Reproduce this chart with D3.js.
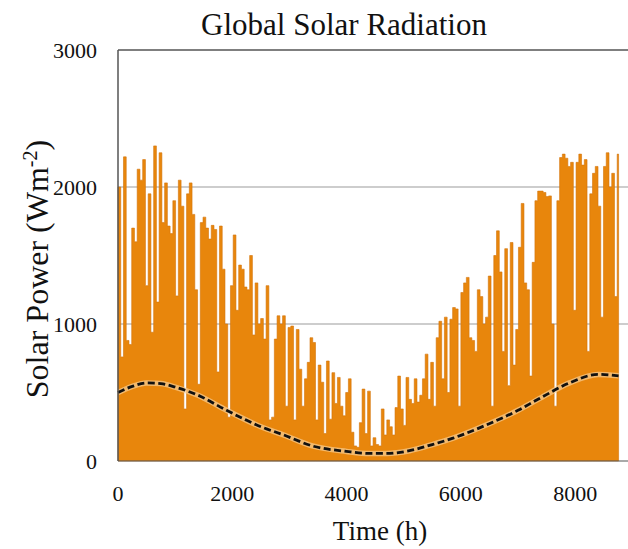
<!DOCTYPE html>
<html>
<head>
<meta charset="utf-8">
<script src="https://cdn.jsdelivr.net/npm/d3@7/dist/d3.min.js"></script>
<style>
  html, body { margin: 0; padding: 0; background: #fff; }
  svg { display: block; }
  text { font-family: "Liberation Serif", "DejaVu Serif", serif; fill: #111; }
</style>
</head>
<body>
<svg id="chart" width="628" height="549"></svg>
<script>
// Hourly global solar radiation over one year, summarised as peak values
// for consecutive 48-hour blocks (W m^-2).
const blockHours = 48;
const yearHours = 8760;
const blockPeaks = [
  2000, 760, 2220, 880, 850, 1700, 1600, 2130, 2050, 2200,
  1280, 1950, 940, 2300, 1160, 2250, 1740, 2030, 1715, 1660,
  1900, 1205, 2050, 1860, 380, 1950, 2030, 1800, 1250, 560,
  1740, 1780, 1700, 1620, 1720, 1690, 650, 1715, 1400, 1000,
  320, 1280, 1650, 1100, 1430, 1400, 1270, 1250, 1500, 920,
  1300, 1000, 1040, 890, 1280, 300, 320, 890, 1060, 1000,
  1060, 400, 975, 985, 300, 960, 670, 400, 600, 720,
  900, 865, 300, 700, 575, 200, 730, 305, 645, 420,
  610, 400, 330, 500, 600, 210, 110, 100, 280, 525,
  200, 510, 110, 170, 120, 110, 380, 190, 300, 250,
  190, 390, 620, 380, 260, 610, 450, 420, 600, 430,
  480, 600, 780, 450, 720, 400, 900, 1020, 600, 1050,
  500, 1035, 1120, 1110, 400, 1230, 1300, 1340, 900, 880,
  800, 1250, 1200, 1000, 1050, 1350, 400, 1500, 1680, 1380,
  800, 1550, 550, 1595, 700, 960, 1560, 1880, 1300, 1250,
  620, 1450, 1900, 1970, 1970, 1960, 1930, 1935, 1000, 400,
  1900, 2215, 2240, 2210, 2150, 2180, 1100, 2180, 2240, 2160,
  2200, 800, 1950, 2100, 2150, 1860, 1050, 2150, 2250, 2000,
  2100, 1200, 2240
];

// Smoothed seasonal mean (dashed curve)
const meanHours  = [0, 250, 500, 750, 1000, 1400, 1900, 2500, 2900, 3400, 4000,
                    4400, 4700, 5100, 5500, 5850, 6400, 7000, 7350, 7900, 8400, 8760];
const meanValues = [500, 545, 570, 565, 540, 480, 370, 250, 190, 110, 70,
                    55, 55, 75, 120, 165, 255, 370, 450, 570, 632, 622];

const xTicks = [0, 2000, 4000, 6000, 8000];
const yTicks = [0, 1000, 2000, 3000];

const svg = d3.select("#chart");

const x = d3.scaleLinear().domain([0, 9000]).range([118, 632.3]);
const y = d3.scaleLinear().domain([0, 3000]).range([461, 50]);

// Horizontal gridlines
svg.append("g")
  .selectAll("line")
  .data([1000, 2000])
  .join("line")
  .attr("x1", x(0)).attr("x2", 628)
  .attr("y1", d => y(d)).attr("y2", d => y(d))
  .attr("stroke", "#bdbdbd")
  .attr("stroke-width", 1.5);

// Radiation profile as one stepped area (no seams between blocks)
const steps = blockPeaks.map((v, i) => ({ h: i * blockHours, v }));
steps.push({ h: yearHours, v: blockPeaks[blockPeaks.length - 1] });

const radArea = d3.area()
  .x(d => x(d.h))
  .y0(y(0))
  .y1(d => y(d.v))
  .curve(d3.curveStepAfter);

svg.append("path")
  .attr("d", radArea(steps))
  .attr("fill", "#e8860c")
  .attr("stroke", "#d4730a")
  .attr("stroke-width", 0.6);

// Seasonal mean curve with a soft halo
const meanLine = d3.line()
  .x(d => x(d[0]))
  .y(d => y(d[1]))
  .curve(d3.curveMonotoneX);
const meanPts = meanHours.map((h, i) => [h, meanValues[i]]);

svg.append("path")
  .attr("d", meanLine(meanPts))
  .attr("fill", "none")
  .attr("stroke", "#f8cf95")
  .attr("stroke-width", 5.5)
  .attr("stroke-opacity", 0.7);
svg.append("path")
  .attr("d", meanLine(meanPts))
  .attr("fill", "none")
  .attr("stroke", "#111")
  .attr("stroke-width", 2.8)
  .attr("stroke-dasharray", "7,3.5");

// Frame: left axis, top border, baseline
svg.append("line")
  .attr("x1", x(0)).attr("x2", x(0))
  .attr("y1", y(3000)).attr("y2", y(0))
  .attr("stroke", "#555").attr("stroke-width", 1.5);
svg.append("line")
  .attr("x1", x(0)).attr("x2", 628)
  .attr("y1", y(3000)).attr("y2", y(3000))
  .attr("stroke", "#555").attr("stroke-width", 1.5);
svg.append("line")
  .attr("x1", x(0)).attr("x2", 628)
  .attr("y1", y(0)).attr("y2", y(0))
  .attr("stroke", "#555").attr("stroke-width", 1.2);

// Tick labels
svg.append("g")
  .selectAll("text")
  .data(yTicks)
  .join("text")
  .attr("x", 97)
  .attr("y", d => y(d))
  .attr("dy", "0.35em")
  .attr("text-anchor", "end")
  .attr("font-size", 22)
  .text(d => d);

svg.append("g")
  .selectAll("text")
  .data(xTicks)
  .join("text")
  .attr("x", d => x(d))
  .attr("y", 501)
  .attr("text-anchor", "middle")
  .attr("font-size", 22)
  .text(d => d);

// Titles
svg.append("text")
  .attr("x", 344).attr("y", 35)
  .attr("text-anchor", "middle")
  .attr("font-size", 31)
  .text("Global Solar Radiation");

svg.append("text")
  .attr("x", 380).attr("y", 540)
  .attr("text-anchor", "middle")
  .attr("font-size", 27)
  .text("Time (h)");

const yl = svg.append("text")
  .attr("transform", "translate(48,269) rotate(-90)")
  .attr("text-anchor", "middle")
  .attr("font-size", 32);
yl.append("tspan").text("Solar Power (Wm");
yl.append("tspan").attr("dy", -11).attr("font-size", 20).text("-2");
yl.append("tspan").attr("dy", 11).text(")");
</script>
</body>
</html>
